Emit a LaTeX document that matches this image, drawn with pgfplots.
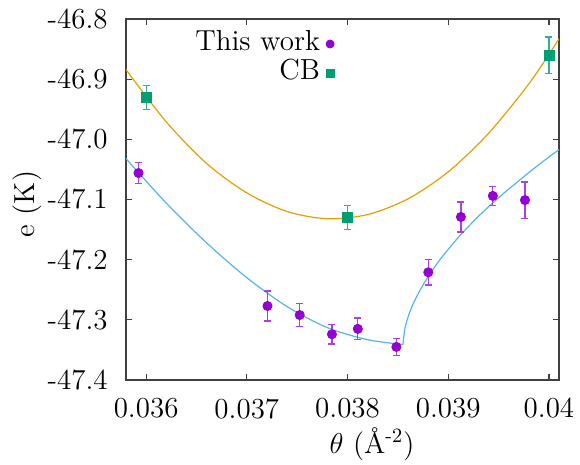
\documentclass[border=0pt]{standalone}
\usepackage{pgfplots}
\pgfplotsset{compat=1.18}
\usetikzlibrary{calc}
\definecolor{cviolet}{HTML}{9400D3}
\definecolor{cgreen}{HTML}{009E73}
\definecolor{cblue}{HTML}{56B4E9}
\definecolor{corange}{HTML}{E69F00}
\begin{document}
\begin{tikzpicture}
\begin{axis}[name=ax, scale only axis, width=216.5pt, height=180.5pt,
  xmin=0.0358, xmax=0.0401, ymin=-47.4, ymax=-46.8,
  xtick={0.036,0.037,0.038,0.039,0.040},
  xticklabels={0.036,0.037,0.038,0.039,0.04},
  ytick={-47.4,-47.3,-47.2,-47.1,-47.0,-46.9,-46.8},
  yticklabels={-47.4,-47.3,-47.2,-47.1,-47.0,-46.9,-46.8},
  scaled x ticks=false, scaled y ticks=false,
  tick align=inside, major tick length=3pt, xtick pos=both, ytick pos=both,
  axis line style={black!75, line width=0.6pt},
  tick style={black!75, line width=0.6pt},
  font=\rmfamily\fontsize{14.5}{17}\selectfont,
  xticklabel style={anchor=north, inner sep=0pt, yshift=-9pt},
  yticklabel style={anchor=east, inner sep=0pt, xshift=-9pt},
  xlabel={$\theta$ (\AA\textsuperscript{-2})},
  ylabel={e (K)},
  every axis x label/.style={at={(rel axis cs:0.5,0)}, anchor=base, xshift=14.75pt, yshift=-36.5pt},
  every axis y label/.style={at={(rel axis cs:0,0.5)}, rotate=90, anchor=center, yshift=49.5pt, xshift=-2.25pt},
  legend style={at={(rel axis cs:0.4815,0.972)}, anchor=north east, draw=none, fill=none,
    inner sep=0pt, row sep=0pt, column sep=2pt,
    nodes={inner sep=1pt, text height=9.5pt, text depth=3pt}},
  legend cell align=right, legend plot pos=right,
]
% fitted curves
\addplot[forget plot, corange, line width=0.6pt, smooth] coordinates {
(0.0358,-46.884) (0.0362,-46.971) (0.0366,-47.040) (0.0370,-47.089)
(0.0374,-47.120) (0.0378,-47.132) (0.0382,-47.125) (0.0386,-47.099)
(0.0390,-47.054) (0.0394,-46.990) (0.0398,-46.908) (0.0401,-46.833)
};
\addplot[forget plot, cblue, line width=0.6pt, smooth] coordinates {
(0.0358,-47.032) (0.0362,-47.106) (0.0366,-47.172) (0.0370,-47.230)
(0.0374,-47.278) (0.0378,-47.313) (0.0382,-47.333) (0.03855,-47.341)
};
\addplot[forget plot, cblue, line width=0.6pt, smooth] coordinates {
(0.03855,-47.341) (0.03857,-47.314) (0.03860,-47.296) (0.03865,-47.274)
(0.03875,-47.242) (0.03890,-47.204) (0.03910,-47.163) (0.03930,-47.128)
(0.03950,-47.097) (0.03970,-47.069) (0.03990,-47.042) (0.0401,-47.017)
};
\addplot[only marks, mark=*, mark size=2.3pt, color=cviolet,
  legend image code/.code={\draw[only marks, mark=*, mark size=2pt, cviolet] plot coordinates {(0pt,0pt)};},
  error bars/.cd, y dir=both, y explicit,
  error bar style={line width=0.6pt, cviolet!75!white},
  error mark options={rotate=90, mark size=1.75pt, line width=0.6pt, cviolet!75!white}]
coordinates {
(0.035924,-47.056) +- (0,0.018)
(0.037205,-47.277) +- (0,0.025)
(0.037525,-47.292) +- (0,0.019)
(0.037845,-47.324) +- (0,0.016)
(0.038102,-47.315) +- (0,0.018)
(0.038485,-47.345) +- (0,0.014)
(0.038802,-47.221) +- (0,0.021)
(0.039126,-47.129) +- (0,0.025)
(0.039443,-47.094) +- (0,0.016)
(0.039762,-47.101) +- (0,0.030)
};
\addlegendentry{This work}
\addplot[only marks, mark=square*, mark size=2.5pt, color=cgreen,
  legend image code/.code={\draw[only marks, mark=square*, mark size=2pt, cgreen] plot coordinates {(0pt,0pt)};},
  error bars/.cd, y dir=both, y explicit,
  error bar style={line width=0.6pt, cgreen!80!white},
  error mark options={rotate=90, mark size=1.75pt, line width=0.6pt, cgreen!80!white}]
coordinates {
(0.0360,-46.930) +- (0,0.020)
(0.0380,-47.130) +- (0,0.020)
(0.0400,-46.860) +- (0,0.030)
};
\addlegendentry{CB}
\end{axis}
\pgfresetboundingbox
\path[use as bounding box] ($(ax.south west)+(-63pt,-42pt)$) rectangle ($(ax.north east)+(10.5pt,9.5pt)$);
\end{tikzpicture}
\end{document}
